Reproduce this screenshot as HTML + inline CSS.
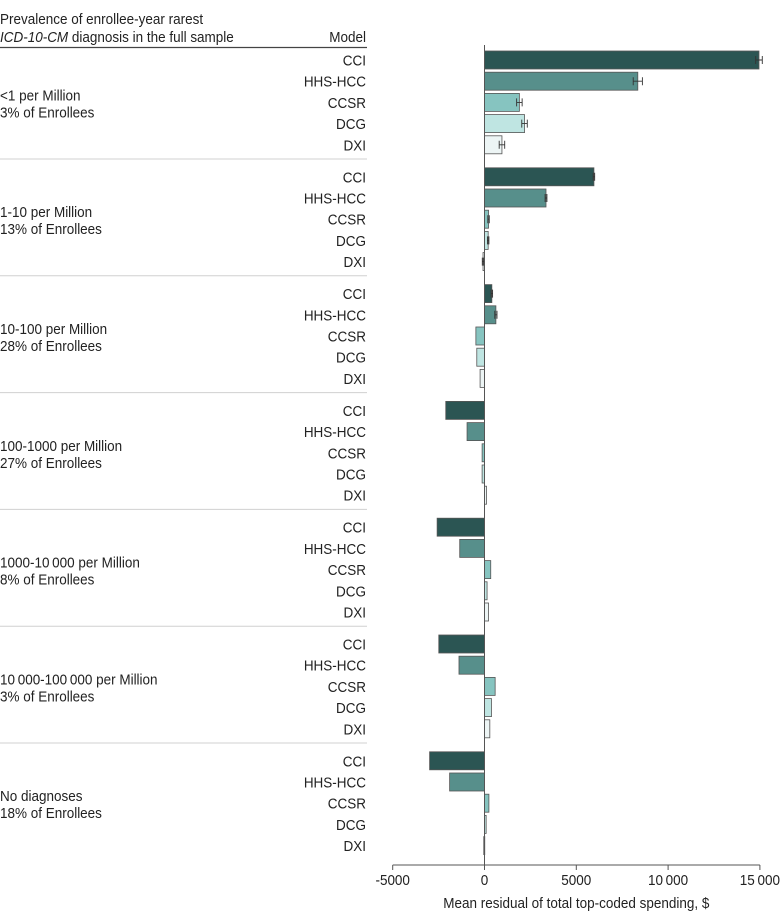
<!DOCTYPE html>
<html><head><meta charset="utf-8">
<style>
html,body{margin:0;padding:0;background:#fff;}
svg{display:block;font-family:"Liberation Sans Narrow","Liberation Sans",sans-serif;}
</style></head>
<body>
<svg id="chart" width="780" height="922" viewBox="0 0 780 922" xmlns="http://www.w3.org/2000/svg">
  <text x="0" y="24" font-size="15" fill="#222" transform="scale(0.9,1)">Prevalence of enrollee-year rarest</text>
  <text x="0" y="42" font-size="15" fill="#222" transform="scale(0.9,1)"><tspan font-style="italic">ICD-10-CM</tspan> diagnosis in the full sample</text>
  <text x="406.7" y="42" font-size="15" fill="#222" text-anchor="end" transform="scale(0.9,1)">Model</text>
  <line x1="0" y1="47.5" x2="367" y2="47.5" stroke="#444" stroke-width="1.2"/>
  <g id="rows"></g>
  <g id="bars"></g>
  <g id="axis"></g>
</svg>
<script>
const groups = ["<1 per Million|3% of Enrollees","1-10 per Million|13% of Enrollees","10-100 per Million|28% of Enrollees","100-1000 per Million|27% of Enrollees","1000-10\u2009000 per Million|8% of Enrollees","10\u2009000-100\u2009000 per Million|3% of Enrollees","No diagnoses|18% of Enrollees"];
const models = ["CCI","HHS-HCC","CCSR","DCG","DXI"];
const cciValues = [14950, 5960, 400, -2110, -2580, -2490, -2990];
const hhsValues = [8350, 3350, 620, -950, -1350, -1390, -1900];
const ccsrValues = [1900, 220, -470, -130, 340, 580, 240];
const dcgValues = [2180, 200, -420, -130, 140, 380, 90];
const dxiValues = [950, -80, -240, 110, 220, 290, -40];
const cciErr = [180, 40, 40, 0, 0, 0, 0];
const hhsErr = [250, 50, 60, 0, 0, 0, 0];
const ccsrErr = [150, 40, 0, 0, 0, 0, 0];
const dcgErr = [150, 40, 0, 0, 0, 0, 0];
const dxiErr = [150, 40, 0, 0, 0, 0, 0];
const ticks = [-5000, 0, 5000, 10000, 15000];
const tickLabels = ["-5000","0","5000","10\u2009000","15\u2009000"];

const series = [cciValues, hhsValues, ccsrValues, dcgValues, dxiValues];
const errs = [cciErr, hhsErr, ccsrErr, dcgErr, dxiErr];
const colors = ["#2b5553","#578f8b","#86c4c0","#bfe5e2","#edf5f5"];
const NS = "http://www.w3.org/2000/svg";
const SX = 0.9;
const x = v => 484.5 + v * (91.8 / 5000);
const rowY = (g, m) => 60 + g * 116.8 + m * 21.2;
function mk(tag, attrs, parent, text){
  const e = document.createElementNS(NS, tag);
  for (const k in attrs) e.setAttribute(k, attrs[k]);
  if (text !== undefined) e.textContent = text;
  parent.appendChild(e); return e;
}
function txt(px, py, s, anchor, parent){
  return mk('text', {x:px/SX, y:py, 'font-size':15, fill:'#222', 'text-anchor':anchor, transform:'scale(' + SX + ',1)'}, parent, s);
}
const rows = document.getElementById('rows');
const bars = document.getElementById('bars');
const axis = document.getElementById('axis');
groups.forEach((g, gi) => {
  const parts = g.split('|');
  const cy = rowY(gi, 2);
  const t1 = txt(0, cy-2, parts[0], 'start', rows);
  
  
  const t2 = txt(0, cy+15, parts[1], 'start', rows);
  
  
  if (gi < groups.length - 1) {
    const sep = mk('line', {x1:0, x2:367, y1:rowY(gi,0)+99, y2:rowY(gi,0)+99, stroke:'#d0d0d0', 'stroke-width':1}, rows);
    
    
  }
  models.forEach((m, mi) => {
    const y = rowY(gi, mi);
    const ml = txt(366, y+5.5, m, 'end', rows);
    
    
    const v = series[mi][gi];
    const x0 = Math.min(x(0), x(v)), w = Math.abs(x(v) - x(0));
    const r = mk('rect', {x:x0, y:y-9, width:Math.max(w,1), height:18, fill:colors[mi], stroke:'#555', 'stroke-width':0.8}, bars);
    
    
    const e = errs[mi][gi];
    if (e > 0) {
      const eb = mk('path', {d:`M${x(v-e)},${y}H${x(v+e)}M${x(v-e)},${y-4}V${y+4}M${x(v+e)},${y-4}V${y+4}`, stroke:'#333', 'stroke-width':0.9, fill:'none'}, bars);
      
      
    }
  });
});
const zl = mk('line', {x1:x(0), x2:x(0), y1:45, y2:865, stroke:'#555', 'stroke-width':1}, axis);


const al = mk('line', {x1:x(-5000), x2:x(15000), y1:865, y2:865, stroke:'#555', 'stroke-width':1}, axis);


ticks.forEach((t, i) => {
  const tk = mk('line', {x1:x(t), x2:x(t), y1:865, y2:870, stroke:'#555', 'stroke-width':1}, axis);
  
  
  const tl = txt(x(t), 885, tickLabels[i], 'middle', axis);
  
  
});
const at = txt(x(5000), 908, 'Mean residual of total top-coded spending, $', 'middle', axis);


</script>
</body></html>
